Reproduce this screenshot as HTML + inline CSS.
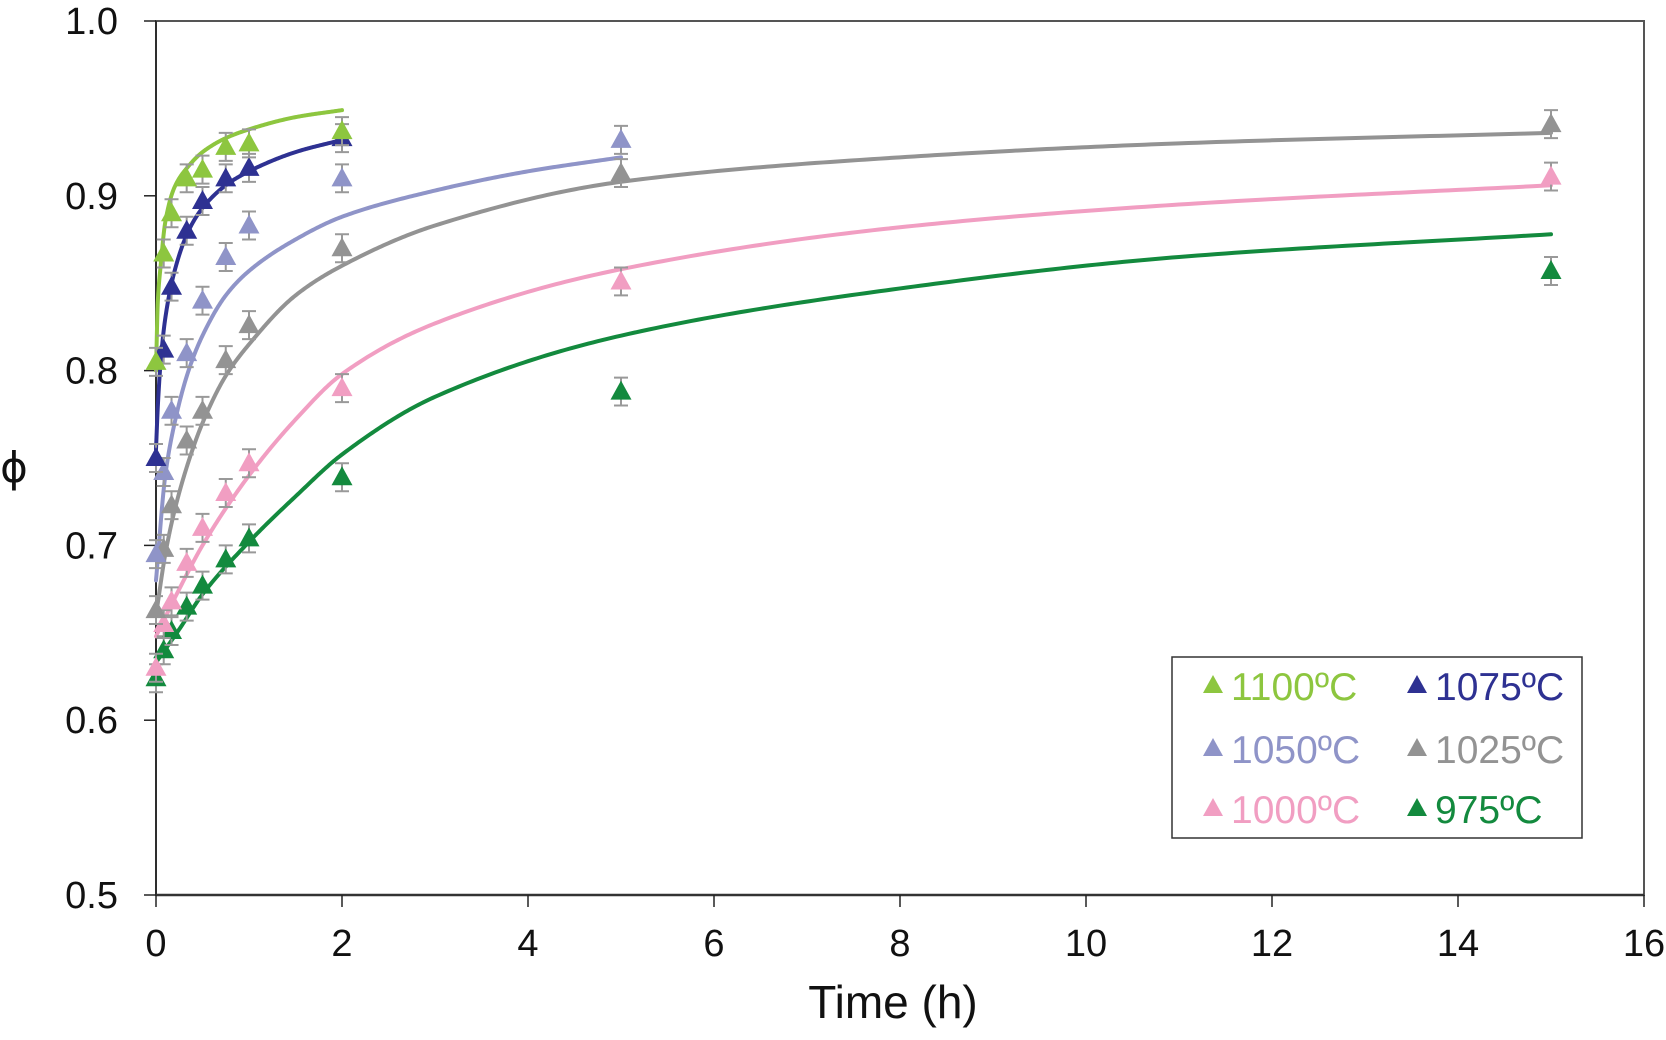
<!DOCTYPE html>
<html><head><meta charset="utf-8"><style>
html,body{margin:0;padding:0;background:#fff;}
svg{display:block;font-family:"Liberation Sans",sans-serif;}
</style></head><body>
<svg id="chart" width="1666" height="1040" viewBox="0 0 1666 1040">
<g id="axes"></g>
<g id="curves"></g>
<g id="points"></g>
<g id="legend"></g>
</svg>
<script>
const xTicks=[0,2,4,6,8,10,12,14,16];
const yTicks=[0.5,0.6,0.7,0.8,0.9,1.0];
const yTickLabels=["0.5","0.6","0.7","0.8","0.9","1.0"];
const seriesNames=["1100ºC","1075ºC","1050ºC","1025ºC","1000ºC","975ºC"];
const seriesColors=["#8dc63f","#2e3192","#8f94c8","#939393","#f19ec2","#138a3e"];
const times=[0,0.083,0.167,0.33,0.5,0.75,1,2,5,15];
const v1100=[0.805,0.867,0.89,0.91,0.915,0.928,0.93,0.937];
const v1075=[0.75,0.812,0.848,0.88,0.897,0.91,0.916,0.933];
const v1050=[0.695,0.742,0.777,0.81,0.84,0.865,0.883,0.91,0.932];
const v1025=[0.663,0.698,0.723,0.76,0.777,0.806,0.826,0.87,0.913,0.941];
const v1000=[0.63,0.655,0.668,0.69,0.71,0.73,0.747,0.79,0.851,0.911];
const v975=[0.624,0.64,0.651,0.665,0.677,0.692,0.704,0.739,0.788,0.857];
const errBar=0.008;
const c1100t=[0,0.02,0.05,0.1,0.2,0.35,0.5,0.75,1,1.5,2];
const c1100v=[0.8,0.84,0.86,0.885,0.905,0.917,0.925,0.933,0.938,0.945,0.949];
const c1075t=[0,0.02,0.05,0.1,0.2,0.35,0.5,0.75,1,1.5,2];
const c1075v=[0.755,0.78,0.805,0.83,0.857,0.88,0.893,0.906,0.914,0.925,0.932];
const c1050t=[0,0.1,0.2,0.35,0.5,0.75,1,1.5,2,3,4,5];
const c1050v=[0.68,0.74,0.77,0.80,0.82,0.843,0.857,0.875,0.888,0.903,0.914,0.922];
const c1025t=[0,0.1,0.2,0.35,0.5,0.75,1,1.5,2,3,5,8,11,15];
const c1025v=[0.66,0.695,0.72,0.748,0.77,0.797,0.815,0.843,0.86,0.883,0.908,0.922,0.93,0.936];
const c1000t=[0,0.25,0.5,1,1.5,2,3,5,8,11,15];
const c1000v=[0.648,0.675,0.7,0.74,0.772,0.798,0.827,0.858,0.882,0.895,0.906];
const c975t=[0,0.25,0.5,1,1.5,2,3,5,8,11,15];
const c975v=[0.633,0.652,0.672,0.702,0.728,0.752,0.785,0.82,0.847,0.865,0.878];

const NS="http://www.w3.org/2000/svg";
const X0=156,XU=93,Y0=895,YS=1748;
const xs=t=>X0+t*XU;
const ys=v=>Y0-(v-0.5)*YS;
function mk(tag,attrs,parent){const e=document.createElementNS(NS,tag);for(const k in attrs)e.setAttribute(k,attrs[k]);parent.appendChild(e);return e;}
const axes=document.getElementById('axes');
let e;
e=mk('rect',{x:X0,y:ys(1),width:xs(16)-X0,height:Y0-ys(1),fill:'none',stroke:'#555','stroke-width':2},axes);


e=mk('line',{x1:X0,y1:ys(1),x2:X0,y2:Y0,stroke:'#222','stroke-width':1.5},axes);


e=mk('line',{x1:X0,y1:Y0,x2:xs(16),y2:Y0,stroke:'#333','stroke-width':2.5},axes);


yTicks.forEach((v,i)=>{
  const t=mk('line',{x1:X0-12,y1:ys(v),x2:X0,y2:ys(v),stroke:'#222','stroke-width':1.5},axes);
  
  
  const l=mk('text',{x:118,y:ys(v)+13,'text-anchor':'end','font-size':38,fill:'#111'},axes);
  l.textContent=yTickLabels[i];
  
  
});
xTicks.forEach(v=>{
  const t=mk('line',{x1:xs(v),y1:Y0,x2:xs(v),y2:Y0+12,stroke:'#222','stroke-width':1.5},axes);
  
  
  const l=mk('text',{x:xs(v),y:956,'text-anchor':'middle','font-size':38,fill:'#111'},axes);
  l.textContent=String(v);
  
  
});
e=mk('text',{x:893,y:1018,'text-anchor':'middle','font-size':46,fill:'#111'},axes);
e.textContent='Time (h)';


e=mk('text',{x:14,y:482,'text-anchor':'middle','font-size':42,fill:'#111','font-family':'"DejaVu Sans",sans-serif'},axes);
e.textContent='ϕ';



// monotone cubic (Fritsch-Carlson) interpolation sampled densely
function monotonePath(T,V){
  const n=T.length,d=[],m=new Array(n);
  for(let i=0;i<n-1;i++)d.push((V[i+1]-V[i])/(T[i+1]-T[i]));
  m[0]=d[0];m[n-1]=d[n-2];
  for(let i=1;i<n-1;i++){
    if(d[i-1]*d[i]<=0)m[i]=0;
    else{const h0=T[i]-T[i-1],h1=T[i+1]-T[i];const w1=2*h1+h0,w2=h1+2*h0;m[i]=(w1+w2)/(w1/d[i-1]+w2/d[i]);}
  }
  let dstr='';
  for(let i=0;i<n-1;i++){
    const h=T[i+1]-T[i];
    const steps=40;
    for(let k=(i===0?0:1);k<=steps;k++){
      const s=k/steps,t=T[i]+s*h;
      const h00=2*s*s*s-3*s*s+1,h10=s*s*s-2*s*s+s,h01=-2*s*s*s+3*s*s,h11=s*s*s-s*s;
      const v=h00*V[i]+h10*h*m[i]+h01*V[i+1]+h11*h*m[i+1];
      dstr+=(dstr?' L':'M')+xs(t).toFixed(2)+','+ys(v).toFixed(2);
    }
  }
  return dstr;
}
const curveT=[c1100t,c1075t,c1050t,c1025t,c1000t,c975t];
const curveV=[c1100v,c1075v,c1050v,c1025v,c1000v,c975v];
const vals=[v1100,v1075,v1050,v1025,v1000,v975];
const cg=document.getElementById('curves');
const pg=document.getElementById('points');
for(let s=5;s>=0;s--){
  const p=mk('path',{d:monotonePath(curveT[s],curveV[s]),fill:'none',stroke:seriesColors[s],'stroke-width':4,'stroke-linecap':'round','stroke-linejoin':'round'},cg);
  
  
}
for(let s=5;s>=0;s--){
  vals[s].forEach((v,i)=>{
    const x=xs(times[i]),y=ys(v);
    const eb=mk('path',{d:`M${x},${ys(v+errBar)} V${ys(v-errBar)} M${x-7},${ys(v+errBar)} H${x+7} M${x-7},${ys(v-errBar)} H${x+7}`,stroke:'#999','stroke-width':2,fill:'none'},pg);
    
    
    const tr=mk('polygon',{points:`${x},${y-11} ${x-10.5},${y+8} ${x+10.5},${y+8}`,fill:seriesColors[s]},pg);
    
    
  });
}
const lg=document.getElementById('legend');
e=mk('rect',{x:1172,y:657,width:410,height:181,fill:'#fff',stroke:'#333','stroke-width':1.5},lg);


const rowsY=[685,748,808];
seriesNames.forEach((n,i)=>{
  const col=i%2,row=Math.floor(i/2);
  const tx=col?1417:1213,cy=rowsY[row];
  const g=mk('g',{},lg);
  
  
  mk('polygon',{points:`${tx},${cy-10} ${tx-10},${cy+8} ${tx+10},${cy+8}`,fill:seriesColors[i]},g);
  const t=mk('text',{x:tx+18,y:cy+15,'font-size':39,fill:seriesColors[i]},g);
  t.textContent=n;
});
</script>
</body></html>
